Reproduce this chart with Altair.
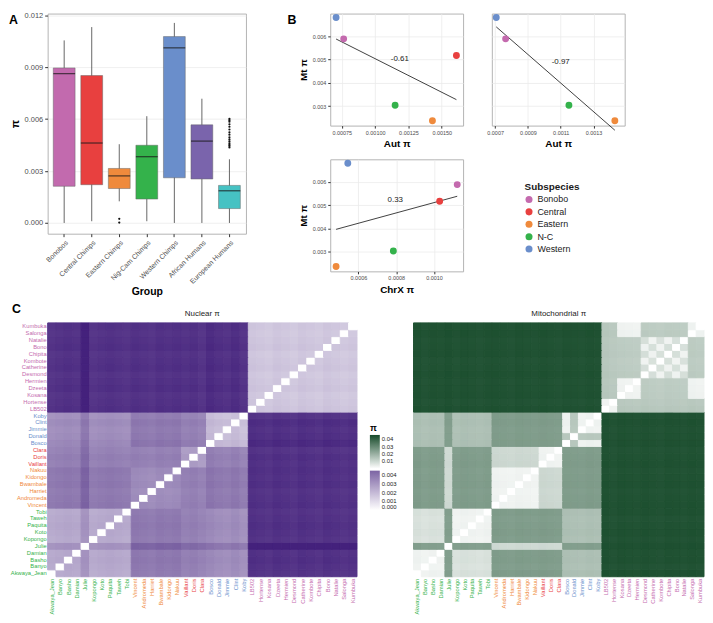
import altair as alt
import pandas as pd

FONT = "Liberation Sans"
GRAY = "#4d4d4d"

# ---------------- Panel A : box plot summaries ----------------
groups_a = ["Bonobos", "Central Chimps", "Eastern Chimps", "Nig-Cam Chimps",
            "Western Chimps", "African Humans", "European Humans"]
a_low = [0.0, 0.0001, 0.00125, 0.0001, 0.0, 0.0, 0.0]
a_q1 = [0.00212, 0.00221, 0.00199, 0.00138, 0.00261, 0.00254, 0.00083]
a_med = [0.00863, 0.00462, 0.00272, 0.00383, 0.01012, 0.00473, 0.00186]
a_q3 = [0.00896, 0.00852, 0.00315, 0.00449, 0.01077, 0.00567, 0.00217]
a_high = [0.01055, 0.01132, 0.00455, 0.00617, 0.01156, 0.00718, 0.00368]
a_colors = ["#c26aae", "#e8403f", "#ef8a3c", "#34b24b", "#6a8ecb", "#7a64ac", "#46c2c3"]
out_group = ["Eastern Chimps", "Eastern Chimps"] + ["European Humans"] * 15
out_vals = [0.00024, 0.00002,
            0.00436, 0.00445, 0.00452, 0.0046, 0.00471, 0.00483, 0.00495, 0.0051,
            0.00524, 0.0054, 0.00556, 0.0057, 0.00585, 0.00594, 0.00602]

# ---------------- Panel B : subspecies diversity ----------------
subspecies = ["Bonobo", "Central", "Eastern", "N-C", "Western"]
sub_colors = ["#c46aae", "#e8403f", "#ef8a3c", "#34b24b", "#6a8ecb"]
aut_pi = [0.000764, 0.00161, 0.00143, 0.00115, 0.000707]
mt_pi = [0.00588, 0.00517, 0.00238, 0.00304, 0.00679]
chrx_pi = [0.001123, 0.00103, 0.000482, 0.000785, 0.000544]
corr_labels = ["-0.61", "-0.97", "0.33"]

# ---------------- Panel C : pairwise heatmaps ----------------
names = ["Akwaya_Jean", "Banyo", "Basho", "Damian", "Julie", "Kopongo", "Koto", "Paquita",
         "Taweh", "Tobi", "Vincent", "Andromeda", "Harriet", "Bwambale", "Kidongo", "Nakuu",
         "Vaillant", "Doris", "Clara", "Bosco", "Donald", "Jimmie", "Clint", "Koby",
         "LB502", "Hortense", "Kosana", "Dzeeta", "Hermien", "Desmond", "Catherine",
         "Kombote", "Chipita", "Bono", "Natalie", "Salonga", "Kumbuka"]
name_sub = ["N-C"] * 10 + ["Eastern"] * 6 + ["Central"] * 3 + ["Western"] * 5 + ["Bonobo"] * 13
# nuclear pi between subspecies (x 1e-3)
nuc_pairs = {("N-C", "N-C"): 1.75, ("N-C", "Eastern"): 2.7, ("N-C", "Central"): 2.55,
             ("N-C", "Western"): 2.3, ("N-C", "Bonobo"): 4.15,
             ("Eastern", "Eastern"): 2.3, ("Eastern", "Central"): 2.55,
             ("Eastern", "Western"): 2.7, ("Eastern", "Bonobo"): 4.15,
             ("Central", "Central"): 2.0, ("Central", "Western"): 2.55,
             ("Central", "Bonobo"): 4.15, ("Western", "Western"): 1.35,
             ("Western", "Bonobo"): 4.2, ("Bonobo", "Bonobo"): 1.15}
nuc_offset = [-0.05, 0.0, 0.05, 0.0, 0.45, -0.05, 0.0, 0.05, 0.0, -0.05,
              0.05, 0.0, -0.05, 0.05, 0.0, 0.05,
              0.0, 0.05, -0.05,
              0.1, 0.0, -0.05, 0.05, -0.1,
              0.05, 0.0, -0.05, 0.05, 0.0, -0.05, 0.05, 0.0, -0.05, 0.05, 0.0, -0.05, 0.0]
# mitochondrial haplogroups and pi between them (x 1e-3)
mt_clade = ["NCa", "NCa", "NCa", "NCa", "NCj", "NCb", "NCb", "NCb", "NCb", "NCb",
            "E", "E", "E", "E", "E", "E", "C", "C", "C",
            "Wa", "Wd", "Wa", "Wa", "Wa",
            "B1", "B1", "B2", "B2", "B2", "B3", "B4", "B3", "B4", "B3", "B4", "B2", "B2"]
mt_pairs = {("NCa", "NCb"): 7.5, ("NCa", "NCj"): 24, ("NCb", "NCj"): 24,
            ("NCa", "E"): 25, ("NCb", "E"): 25, ("NCa", "C"): 25, ("NCb", "C"): 25,
            ("NCa", "Wa"): 16, ("NCb", "Wa"): 16, ("NCa", "Wd"): 16, ("NCb", "Wd"): 16,
            ("NCj", "E"): 9, ("NCj", "C"): 9, ("NCj", "Wa"): 24, ("NCj", "Wd"): 24,
            ("E", "C"): 10, ("E", "Wa"): 25, ("E", "Wd"): 25, ("C", "Wa"): 25, ("C", "Wd"): 25,
            ("Wa", "Wd"): 14,
            ("B1", "B2"): 14, ("B1", "B3"): 14, ("B1", "B4"): 14,
            ("B2", "B3"): 13, ("B2", "B4"): 13, ("B3", "B4"): 8}
mt_same = 3.0
mt_bonobo_chimp = 44.0
mt_offset = [0.3, -0.3, 0.2, 0.0, 0.5, -0.2, 0.3, 0.0, -0.3, 0.2,
             0.3, 0.0, -0.3, 0.2, 0.0, -0.2, 0.3, 0.0, -0.3,
             0.2, 0.0, -0.2, 0.3, 0.0,
             0.3, -0.3, 0.2, 0.0, -0.2, 0.3, 0.0, -0.3, 0.2, 0.0, -0.2, 0.3, 0.0]


def pair_value(table, a, b):
    return table.get((a, b), table.get((b, a)))


rows = []
for i, ni in enumerate(names):
    for j, nj in enumerate(names):
        if i == j:
            nv, mv = 0.0, 0.0
        else:
            nv = (pair_value(nuc_pairs, name_sub[i], name_sub[j]) + nuc_offset[i] + nuc_offset[j]) / 1000
            ci, cj = mt_clade[i], mt_clade[j]
            if (name_sub[i] == "Bonobo") != (name_sub[j] == "Bonobo"):
                base = mt_bonobo_chimp
            elif ci == cj:
                base = mt_same
            else:
                base = pair_value(mt_pairs, ci, cj)
            mv = (base + mt_offset[i] + mt_offset[j]) / 1000
        rows.append({"col": nj, "row": ni, "nuc": nv, "mt": mv})
heat_df = pd.DataFrame(rows)


def text_layer(label, x, y, size, weight="normal", align="left", baseline="top", color="#000"):
    return alt.Chart(pd.DataFrame({"t": [label]})).mark_text(
        font=FONT, fontSize=size, fontWeight=weight, align=align, baseline=baseline,
        color=color).encode(x=alt.value(x), y=alt.value(y), text="t:N")


# ================= build charts =================
# ---- A ----
dfA = pd.DataFrame({"group": groups_a, "low": a_low, "q1": a_q1, "med": a_med,
                    "q3": a_q3, "high": a_high})
dfO = pd.DataFrame({"group": out_group, "v": out_vals})
xA = alt.X("group:N", sort=groups_a,
           scale=alt.Scale(domain=groups_a, paddingInner=0, paddingOuter=0.1),
           axis=alt.Axis(title="Group", labelAngle=-45, labelFontSize=7, labelColor=GRAY,
                         tickSize=3, tickColor="#333", titleFontSize=10.5,
                         titleFontWeight="bold", labelPadding=2, domain=False, titlePadding=2))
yscaleA = alt.Scale(domain=[-0.00062, 0.0121], nice=False, zero=False)
yaxisA = alt.Axis(values=[0, 0.003, 0.006, 0.009, 0.012], format=".3f", title="π",
                  labelFontSize=7.5, labelColor=GRAY, tickSize=3, tickColor="#333",
                  titleFontSize=11, titleFontWeight="bold", domain=False, labelPadding=2)
whisk = alt.Chart(dfA).mark_rule(color="#555", strokeWidth=0.9).encode(
    x=xA, y=alt.Y("low:Q", scale=yscaleA, axis=yaxisA), y2="high:Q")
boxes = alt.Chart(dfA).mark_bar(size=22, stroke="#666", strokeWidth=0.5).encode(
    x=xA, y=alt.Y("q1:Q", scale=yscaleA, axis=yaxisA), y2="q3:Q",
    color=alt.Color("group:N", scale=alt.Scale(domain=groups_a, range=a_colors), legend=None))
meds = alt.Chart(dfA).mark_tick(size=22, thickness=1.3, color="#1a1a1a").encode(
    x=xA, y=alt.Y("med:Q", scale=yscaleA, axis=yaxisA))
outs = alt.Chart(dfO).mark_circle(size=5, color="#111", opacity=1).encode(
    x=xA, y=alt.Y("v:Q", scale=yscaleA, axis=yaxisA))
chartA = alt.layer(whisk, boxes, meds, outs,
                   text_layer("A", -39, 1, 12.5, "bold")).properties(width=200, height=222)

# ---- B ----
dfB = pd.DataFrame({"sub": subspecies, "aut": aut_pi, "mt": mt_pi, "chrx": chrx_pi})
ydomB = [0.00217, 0.00696]
legB = alt.Legend(title="Subspecies", orient="none", legendX=196, legendY=170,
                  titleFontSize=10, titleFontWeight="bold", labelFontSize=9,
                  symbolSize=50, symbolType="circle", rowPadding=2.5, titlePadding=3,
                  labelColor="#1a1a1a", titleColor="#1a1a1a")
colorB = alt.Color("sub:N", scale=alt.Scale(domain=subspecies, range=sub_colors), legend=legB)


def scatter(df, xfield, xdomain, xvals, xfmt, xtitle, show_y, label, lx, ly, letter=None):
    xs = alt.X(f"{xfield}:Q", scale=alt.Scale(domain=xdomain, nice=False, zero=False),
               axis=alt.Axis(values=xvals, format=xfmt, title=xtitle, labelFontSize=5.5,
                             labelColor=GRAY, tickSize=2.5, tickColor="#333",
                             titleFontSize=10, titleFontWeight="bold", domain=False,
                             labelPadding=2, titlePadding=3))
    ys = alt.Y("mt:Q", scale=alt.Scale(domain=ydomB, nice=False, zero=False),
               axis=alt.Axis(values=[0.003, 0.004, 0.005, 0.006], format=".3f",
                             title="Mt π" if show_y else None, labels=show_y,
                             ticks=show_y, labelFontSize=5.5, labelColor=GRAY,
                             tickSize=2.5, tickColor="#333", titleFontSize=10,
                             titleFontWeight="bold", domain=False, labelPadding=2,
                             titlePadding=4))
    line = alt.Chart(df).transform_regression(xfield, "mt").mark_line(
        color="#111", strokeWidth=0.8).encode(x=xs, y=ys)
    pts = alt.Chart(df).mark_circle(size=48, opacity=1).encode(x=xs, y=ys, color=colorB)
    txt = alt.Chart(pd.DataFrame({xfield: [lx], "mt": [ly], "t": [label]})).mark_text(
        font=FONT, fontSize=8, color="#222").encode(x=xs, y=ys, text="t:N")
    layers = [line, pts, txt]
    if letter:
        layers.append(text_layer(letter, -43, 1, 12.5, "bold"))
    return alt.layer(*layers).properties(width=134, height=113)


b1 = scatter(dfB, "aut", [0.000663, 0.00166], [0.00075, 0.001, 0.00125, 0.0015], ".5f",
             "Aut π", True, corr_labels[0], 0.001185, 0.005, letter="B")
b2 = scatter(dfB[dfB["sub"] != "Central"], "aut", [0.00068, 0.00149],
             [0.0007, 0.0009, 0.0011, 0.0013], ".4f", "Aut π", False, corr_labels[1],
             0.0011, 0.0049)
b3 = scatter(dfB, "chrx", [0.000451, 0.001154], [0.0006, 0.0008, 0.001], ".4f",
             "ChrX π", True, corr_labels[2], 0.000795, 0.0052)
gridB = alt.concat(b1, b2, b3, columns=2, spacing={"row": 34, "column": 29}, bounds="flush")

top = alt.hconcat(chartA, gridB, spacing=40).resolve_scale(color="independent")

# ---- C ----
label_cond = {"condition": [
    {"test": "indexof([" + ",".join("'%s'" % n for n, s in zip(names, name_sub) if s == sp)
             + "], datum.value) >= 0", "value": c}
    for sp, c in zip(subspecies, sub_colors)], "value": "#333"}

purple_scale = alt.Scale(domain=[0, 0.0045], range=["#ffffff", "#44217c"],
                         interpolate="rgb", clamp=True)
green_scale = alt.Scale(domain=[0, 0.046], range=["#ffffff", "#164a2a"],
                        interpolate="rgb", clamp=True)
HW_L, HW_R, HH = 312, 293, 256


def heat_axes(show_y):
    hx = alt.X("col:N", sort=names, scale=alt.Scale(paddingInner=0, paddingOuter=0),
               axis=alt.Axis(title=None, labelAngle=-90, labelFontSize=5.8, labelColor=label_cond,
                             ticks=False, domain=False, labelPadding=1.5, grid=False))
    hy = alt.Y("row:N", sort=names[::-1], scale=alt.Scale(paddingInner=0, paddingOuter=0),
               axis=alt.Axis(title=None, labelFontSize=5.8, labelColor=label_cond, labels=show_y,
                             ticks=False, domain=False, labelPadding=1.5, grid=False))
    return hx, hy


hx, hy = heat_axes(True)
nuc_heat = alt.Chart(heat_df).mark_rect(strokeWidth=1).encode(
    x=hx, y=hy, color=alt.Color("nuc:Q", scale=purple_scale, legend=None),
    stroke=alt.Stroke("nuc:Q", scale=purple_scale, legend=None))
cleft = alt.layer(
    nuc_heat,
    text_layer("C", -36, -20, 12.5, "bold"),
    text_layer("Nuclear π", HW_L / 2, -7, 8, align="center", baseline="alphabetic", color="#222"),
).properties(width=HW_L, height=HH, view=alt.ViewBackground(stroke="transparent"))

hx2, hy2 = heat_axes(False)
mt_heat = alt.Chart(heat_df).mark_rect(strokeWidth=1).encode(
    x=hx2, y=hy2,
    stroke=alt.Stroke("mt:Q", scale=green_scale, legend=None),
    color=alt.Color("mt:Q", scale=green_scale,
                    legend=alt.Legend(title="π", orient="none", legendX=-44, legendY=102,
                                      gradientLength=34, gradientThickness=10,
                                      values=[0.01, 0.02, 0.03, 0.04], format=".2f",
                                      labelFontSize=6, titleFontSize=9, titleFontWeight="bold",
                                      titlePadding=2, labelColor="#222", gradientStrokeWidth=0,
                                      labelOverlap=False)))
nuc_leg = alt.Chart(pd.DataFrame({"nuc": [0.0, 0.0045]})).mark_point(
    size=0, strokeWidth=0, filled=False).encode(
    color=alt.Color("nuc:Q", scale=purple_scale,
                    legend=alt.Legend(title=None, orient="none", legendX=-44, legendY=149,
                                      gradientLength=40, gradientThickness=10,
                                      values=[0, 0.001, 0.002, 0.003, 0.004], format=".3f",
                                      labelFontSize=6, labelColor="#222", gradientStrokeWidth=0,
                                      labelOverlap=False)))
cright = alt.layer(
    mt_heat, nuc_leg,
    text_layer("Mitochondrial π", HW_R / 2, -7, 8, align="center", baseline="alphabetic",
               color="#222"),
).resolve_scale(color="independent").properties(
    width=HW_R, height=HH, view=alt.ViewBackground(stroke="transparent"))

bottom = alt.hconcat(cleft, cright, spacing=10).resolve_scale(
    color="independent", stroke="independent")

chart = alt.vconcat(top, bottom, spacing=4).resolve_scale(
    color="independent", stroke="independent").properties(
    padding=0
).configure(font=FONT).configure_view(stroke="#b3b3b3", strokeWidth=1).configure_axis(
    gridColor="#ebebeb", gridWidth=0.8, labelFont=FONT, titleFont=FONT
).configure_title(font=FONT).configure_legend(labelFont=FONT, titleFont=FONT)

chart.save("out.html", embed_options={"renderer": "svg", "actions": False})
